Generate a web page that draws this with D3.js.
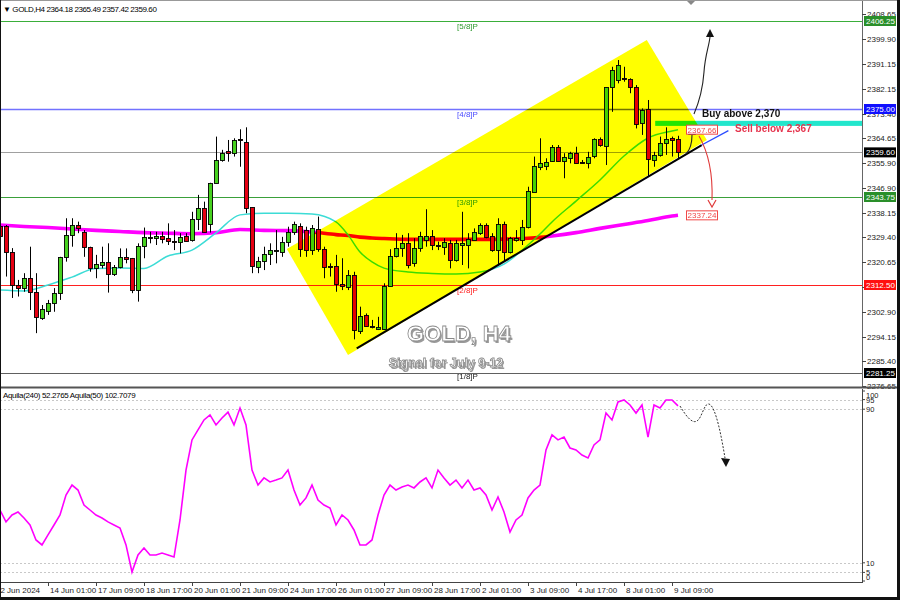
<!DOCTYPE html>
<html><head><meta charset="utf-8">
<script src="https://cdn.jsdelivr.net/npm/d3@7"></script>
<style>
html,body{margin:0;padding:0;background:#fff;}
svg{display:block;}
text{font-family:"Liberation Sans",Arial,sans-serif;}
</style>
</head><body>
<svg id="c" width="900" height="600"></svg>
<script>
// ---------------- DATA ----------------
const symbolTitle = "GOLD,H4";
const lastOHLC = [2364.18, 2365.49, 2357.42, 2359.60];
const open  = [2333.5,2333.5,2324.3,2312.5,2311.4,2315.0,2310.1,2300.8,2303.3,2306.1,2309.7,2322.4,2330.3,2333.8,2331.4,2326.1,2318.5,2319.6,2320.8,2316.4,2318.9,2322.4,2322.1,2310.7,2326.3,2329.6,2329.3,2329.9,2329.1,2328.2,2327.9,2329.9,2328.2,2335.8,2339.7,2334.4,2348.8,2356.9,2360.2,2359.4,2364.2,2363.4,2340.1,2319.0,2321.0,2323.4,2324.7,2324.3,2327.9,2331.4,2333.5,2332.0,2324.9,2332.3,2325.2,2319.2,2319.2,2312.7,2311.9,2316.1,2296.0,2301.8,2297.9,2297.1,2297.1,2312.2,2322.8,2325.5,2327.5,2320.2,2325.5,2328.5,2329.9,2326.7,2326.1,2327.5,2321.6,2326.7,2326.7,2328.7,2330.9,2333.8,2329.9,2324.9,2334.1,2324.3,2328.5,2328.7,2333.2,2345.6,2354.5,2354.8,2356.6,2361.4,2356.6,2357.5,2359.3,2356.3,2355.9,2358.1,2364.2,2361.9,2382.7,2385.3,2385.9,2385.6,2382.9,2369.9,2374.9,2357.1,2358.7,2362.8,2364.6,2364.18];
const high  = [2335.5,2333.8,2325.6,2314.3,2316.7,2326.1,2316.7,2305.4,2307.2,2311.4,2322.5,2336.2,2336.2,2335.0,2332.0,2326.1,2323.2,2326.1,2327.3,2319.6,2325.5,2325.5,2322.1,2327.3,2332.9,2331.4,2331.4,2331.4,2334.4,2332.0,2330.9,2330.9,2338.5,2344.5,2342.1,2348.8,2365.2,2360.5,2364.0,2364.6,2367.8,2368.5,2340.1,2322.5,2326.1,2327.3,2332.0,2329.6,2333.2,2335.0,2334.4,2333.2,2333.8,2336.8,2326.1,2320.2,2323.2,2322.0,2317.8,2317.2,2304.8,2302.4,2300.1,2301.2,2313.1,2325.2,2330.9,2330.3,2330.9,2329.1,2331.4,2339.4,2332.0,2327.9,2329.1,2328.5,2328.5,2338.5,2330.9,2332.6,2334.4,2334.4,2330.9,2336.2,2335.0,2329.6,2332.0,2335.6,2347.4,2358.1,2364.6,2357.5,2362.2,2362.2,2359.3,2359.8,2361.6,2356.9,2359.8,2364.6,2364.9,2382.7,2390.0,2392.4,2390.0,2385.9,2383.5,2375.2,2378.2,2359.8,2365.2,2368.5,2365.2,2365.49];
const low   = [2327.0,2315.5,2307.9,2308.4,2310.1,2303.6,2295.4,2300.1,2301.9,2303.0,2307.2,2320.8,2326.1,2330.9,2322.5,2317.2,2314.9,2318.4,2309.8,2315.7,2318.4,2320.2,2309.6,2306.6,2322.0,2327.3,2326.7,2327.3,2326.7,2324.9,2323.7,2327.9,2327.9,2332.0,2331.1,2331.1,2348.6,2356.3,2356.3,2358.1,2354.5,2338.0,2316.7,2316.7,2317.8,2319.6,2320.2,2322.5,2326.1,2330.3,2322.5,2322.5,2323.2,2324.3,2314.9,2315.5,2310.1,2310.7,2310.7,2293.2,2295.1,2297.7,2297.1,2296.5,2296.5,2311.9,2322.3,2322.5,2318.4,2319.0,2324.3,2326.1,2324.9,2324.9,2323.2,2318.4,2320.8,2319.6,2318.4,2328.5,2330.3,2329.1,2324.3,2319.6,2320.8,2323.7,2327.9,2326.7,2332.6,2345.6,2353.3,2353.3,2356.3,2356.3,2350.4,2355.7,2355.7,2355.7,2353.9,2357.5,2361.6,2355.1,2374.0,2384.1,2384.7,2380.6,2368.1,2365.8,2351.0,2354.5,2358.1,2358.7,2358.1,2357.42];
const close = [2330.0,2324.3,2312.5,2311.4,2315.1,2310.1,2301.2,2304.0,2306.1,2309.7,2322.4,2330.3,2333.8,2332.7,2326.1,2318.5,2320.0,2320.8,2316.4,2318.9,2322.4,2321.7,2310.7,2326.3,2329.6,2329.1,2329.9,2328.7,2327.9,2327.9,2329.6,2328.2,2335.8,2339.7,2331.1,2348.8,2356.9,2359.5,2359.4,2364.0,2363.7,2340.1,2319.0,2321.0,2323.4,2324.9,2324.9,2327.9,2331.4,2334.2,2325.5,2324.9,2332.6,2325.2,2318.8,2318.8,2312.9,2311.9,2316.1,2296.5,2301.5,2297.9,2297.5,2297.7,2312.2,2322.8,2325.5,2327.3,2319.6,2325.5,2329.9,2329.9,2326.7,2326.3,2327.9,2321.6,2327.5,2327.3,2328.7,2331.4,2333.8,2329.6,2324.9,2334.1,2324.3,2329.1,2329.1,2333.2,2346.0,2354.8,2355.9,2356.3,2361.6,2356.6,2357.9,2359.3,2355.9,2355.9,2358.1,2364.2,2361.9,2382.7,2388.8,2390.6,2385.6,2382.9,2369.9,2374.6,2357.1,2358.7,2362.8,2364.2,2364.0,2359.60];

const maBars = [0,4,8,12,16,20,24,28,32,36,40,44,48,52,56,58,60,62,64,68,72,76,80,84,88,90,92,96,100,104,108,112,113];
const maFast = [2310.7,2310.4,2312.5,2315.3,2318.4,2318.5,2318.4,2322.8,2324.9,2331.0,2337.4,2338.0,2338.0,2337.7,2334.9,2330.3,2324.2,2320.7,2318.5,2317.1,2316.6,2316.4,2317.1,2319.9,2326.7,2330.6,2334.9,2342.3,2349.8,2358.3,2364.7,2367.2,2367.66];
const maSlow = [2333.8,2333.3,2332.9,2332.4,2331.9,2331.5,2331.1,2330.9,2330.7,2331.1,2332.2,2331.9,2331.8,2331.3,2330.4,2330.1,2329.5,2329.2,2329.0,2328.7,2328.7,2328.7,2328.7,2328.8,2329.1,2329.4,2329.9,2331.1,2332.6,2334.0,2335.4,2337.0,2337.24];

const aquila = [37.5,31.3,34.9,36.5,33.3,29.7,21.9,19.3,24.5,29.7,34.9,45.3,50.5,47.9,40.1,37.5,34.9,33.3,31.3,29.7,28.1,19.3,5.2,14.1,17.7,14.1,14.1,15.1,14.1,13.0,32.3,58.3,74.0,79.2,84.4,87.0,81.8,85.4,88.5,81.8,90.6,81.8,58.3,50.5,54.2,52.1,53.1,54.2,58.3,47.9,40.1,43.8,50.5,42.7,40.1,38.5,29.7,34.9,32.3,27.1,19.3,19.3,21.9,34.9,45.3,50.5,47.9,49.5,50.5,49.0,52.1,54.2,49.0,58.3,54.2,50.5,53.1,49.0,53.1,47.9,49.0,45.3,37.5,44.3,36.5,26.0,32.3,34.9,43.8,47.9,50.5,68.8,76.6,74.0,75.5,69.8,68.8,66.1,64.6,71.4,74.0,88.0,84.4,93.8,94.8,92.2,88.0,92.2,75.5,92.2,90.6,94.8,94.8,91.7];
const aquilaLegend = "Aquila(240) 52.2765  Aquila(50) 102.7079";

const priceTicks = [2408.65,2399.90,2391.15,2382.15,2373.40,2364.65,2355.90,2346.90,2338.15,2329.40,2320.65,2311.90,2302.90,2294.15,2285.40,2276.65];
const levelNames  = ["[5/8]P","[4/8]P","[3/8]P","[2/8]P","[1/8]P"];
const levelPrices = [2406.25,2375.00,2343.75,2312.50,2281.25];
const indTicks = [100,95,90,10,5,0];
const indDotted = [95,90,10,5];
const xLabelBars = [0,8,16,24,32,40,48,56,64,72,80,88,96,104,112];
const xLabels = ["12 Jun 2024","14 Jun 01:00","17 Jun 09:00","18 Jun 17:00","20 Jun 01:00","21 Jun 09:00","24 Jun 17:00","26 Jun 01:00","27 Jun 09:00","28 Jun 17:00","2 Jul 01:00","3 Jul 09:00","4 Jul 17:00","8 Jul 01:00","9 Jul 09:00"];
// channel (bar, price) corners and support line
const channelBars   = [47.8,107.8,117.8,58.0];
const channelPrices = [2325.3,2399.5,2364.0,2287.6];
const supportBars   = [59.45,116.95,121.4];
const supportPrices = [2290.0,2362.2,2367.3];
const buyZone = [2369.0,2370.8];
const buyText = "Buy above 2,370";
const sellText = "Sell below 2,367";
const titleText = "GOLD, H4";
const subtitleText = "Signal for July 9-12";

// ---------------- CHART ----------------
const svg = d3.select("#c");
const PR = 862;              // plot right edge
const MB = 387;              // main bottom
const x  = d3.scaleLinear().domain([0,113]).range([0,678]);
const y  = d3.scaleLinear().domain([2375,2312.5]).range([109,285]);
const yi = d3.scaleLinear().domain([0,100]).range([582,390]);
const up = "#46d11f", dn = "#e60012";

svg.append("rect").attr("width",900).attr("height",600).attr("fill","#fff");
const defs = svg.append("defs");
defs.append("clipPath").attr("id","cm").append("rect").attr("x",0).attr("y",0).attr("width",PR).attr("height",MB);
defs.append("clipPath").attr("id","ci").append("rect").attr("x",0).attr("y",389).attr("width",PR).attr("height",193);

const main = svg.append("g").attr("clip-path","url(#cm)");

// levels
const lvColors = ["#3aae3a","#7272ff","#3aa03a","#ff2020","#606060"];
const lvText   = ["#2f9a2f","#4b4bff","#2f9a2f","#ff2020","#222"];
main.selectAll("line.lv").data(levelPrices).join("line")
  .attr("x1",0).attr("x2",PR)
  .attr("y1",d=>Math.round(y(d))+0.5).attr("y2",d=>Math.round(y(d))+0.5)
  .attr("stroke",(d,i)=>lvColors[i]).attr("stroke-width",(d,i)=>i===1?1.6:1);
main.append("line").attr("x1",0).attr("x2",PR)
  .attr("y1",Math.round(y(lastOHLC[3]))+0.5).attr("y2",Math.round(y(lastOHLC[3]))+0.5)
  .attr("stroke","#a0a0a0").attr("stroke-width",1);
main.selectAll("text.lv").data(levelNames).join("text")
  .attr("x",457).attr("y",(d,i)=>y(levelPrices[i])+(i===4?6:8))
  .attr("font-size",8).attr("fill",(d,i)=>lvText[i]).text(d=>d);

// buy zone band
main.append("rect").attr("x",x(109.2)).attr("width",PR-x(109.2))
  .attr("y",y(buyZone[1])).attr("height",y(buyZone[0])-y(buyZone[1]))
  .attr("fill","#22e6cc");

// moving averages
const lineMA = vals => d3.line().x((d,i)=>x(maBars[i])).y(d=>y(d)).curve(d3.curveMonotoneX)(vals);
main.append("path").attr("d",lineMA(maSlow)).attr("fill","none").attr("stroke","#ff00ff").attr("stroke-width",3.6);
main.append("path").attr("d",lineMA(maFast)).attr("fill","none").attr("stroke","#3cdcd6").attr("stroke-width",1.5);

// candles
const idx = d3.range(open.length);
const cx = i => Math.round(x(i));
main.selectAll("line.wick").data(idx).join("line")
  .attr("x1",i=>cx(i)+0.5).attr("x2",i=>cx(i)+0.5)
  .attr("y1",i=>y(high[i])).attr("y2",i=>y(low[i]))
  .attr("stroke","#000").attr("stroke-width",1);
main.selectAll("rect.body").data(idx).join("rect")
  .attr("x",i=>cx(i)-1.5).attr("width",4)
  .attr("y",i=>Math.round(y(Math.max(open[i],close[i])))+0.5)
  .attr("height",i=>Math.max(1,Math.round(Math.abs(y(open[i])-y(close[i])))))
  .attr("fill",i=>close[i]>=open[i]?up:dn)
  .attr("stroke","#000").attr("stroke-width",0.9);

// yellow channel (multiply)
main.append("polygon")
  .attr("points",channelBars.map((b,i)=>[x(b),y(channelPrices[i])].join(",")).join(" "))
  .attr("fill","#ffff00").style("mix-blend-mode","multiply");

// support line + extension
main.append("line").attr("x1",x(supportBars[0])).attr("y1",y(supportPrices[0]))
  .attr("x2",x(supportBars[1])).attr("y2",y(supportPrices[1])).attr("stroke","#000").attr("stroke-width",2);
main.append("line").attr("x1",x(supportBars[1])).attr("y1",y(supportPrices[1]))
  .attr("x2",x(supportBars[2])).attr("y2",y(supportPrices[2])).attr("stroke","#2b4cff").attr("stroke-width",1.3);

// arrows
main.append("path").attr("d","M694,114 C700,100 703,86 704,72 C705,56 709,46 710,37")
  .attr("fill","none").attr("stroke","#222").attr("stroke-width",1.1);
main.append("polygon").attr("points","706,37 714,37 710,29").attr("fill","#111");
main.append("path").attr("d","M686,154 Q692,148 692,135")
  .attr("fill","none").attr("stroke","#222").attr("stroke-width",1.1);
main.append("polygon").attr("points","688,135 696,135 692,127").attr("fill","#111");
main.append("path").attr("d","M699,136 C707,150 713,172 712,200")
  .attr("fill","none").attr("stroke","#e03a3a").attr("stroke-width",1.1);
main.append("path").attr("d","M708,200 L712,207 L716,200").attr("fill","none").attr("stroke","#e03a3a").attr("stroke-width",1.2);

// annotation texts
main.append("text").attr("x",702).attr("y",117).attr("font-size",10).attr("font-weight","bold").attr("fill","#111").text(buyText);
main.append("text").attr("x",735).attr("y",132).attr("font-size",10).attr("font-weight","bold").attr("fill","#e5364f").text(sellText);

// MA value boxes
[maFast[maFast.length-1], maSlow[maSlow.length-1]].forEach(v=>{
  const g = main.append("g");
  g.append("rect").attr("x",686.5).attr("y",y(v)-4.5).attr("width",31).attr("height",9)
    .attr("fill","#fff").attr("stroke","#f04848").attr("stroke-width",1);
  g.append("text").attr("x",702).attr("y",y(v)+3).attr("text-anchor","middle")
    .attr("font-size",8).attr("fill","#f04848").text(v.toFixed(2));
});

// big titles
function shadowText(t,xx,yy,fs){
  main.append("text").attr("x",xx+1.5).attr("y",yy+1.5).attr("text-anchor","middle")
    .attr("font-size",fs).attr("font-weight","bold").attr("fill","#9a9a9a").text(t);
  main.append("text").attr("x",xx).attr("y",yy).attr("text-anchor","middle")
    .attr("font-size",fs).attr("font-weight","bold").attr("fill","#fff")
    .attr("stroke","#8a8a8a").attr("stroke-width",0.8).text(t);
}
shadowText(titleText,459,341,22);
shadowText(subtitleText,446,367,12.5);

// header
svg.append("text").attr("x",3).attr("y",12).attr("font-size",8).attr("letter-spacing",-0.4).attr("fill","#000")
  .text("\u25BC " + symbolTitle + "  " + lastOHLC.map(v=>v.toFixed(2)).join(" "));
// top marker
svg.append("polygon").attr("points","687,1 695,1 691,5").attr("fill","#888");

// ---- right price axis ----
const ax = svg.append("g");
ax.append("line").attr("x1",PR+0.5).attr("x2",PR+0.5).attr("y1",0).attr("y2",MB).attr("stroke","#666");
ax.selectAll("line.t").data(priceTicks).join("line")
  .attr("x1",PR).attr("x2",PR+4).attr("y1",d=>Math.round(y(d))+0.5).attr("y2",d=>Math.round(y(d))+0.5).attr("stroke","#444");
ax.selectAll("text.t").data(priceTicks).join("text")
  .attr("x",867).attr("y",d=>y(d)+3).attr("font-size",8).attr("fill","#222").text(d=>d.toFixed(2));
const boxCol = ["#2a8f2a","#1010ff","#000","#2a8f2a","#ff1010","#000"];
const boxVals = [levelPrices[0],levelPrices[1],lastOHLC[3],levelPrices[2],levelPrices[3],levelPrices[4]];
boxVals.forEach((v,i)=>{
  ax.append("rect").attr("x",864).attr("y",y(v)-5).attr("width",32).attr("height",10).attr("fill",boxCol[i]);
  ax.append("text").attr("x",866).attr("y",y(v)+3).attr("font-size",8).attr("fill","#fff").text(v.toFixed(2));
});

// panel separator / top line
svg.append("line").attr("x1",0).attr("x2",900).attr("y1",387.5).attr("y2",387.5).attr("stroke","#555").attr("stroke-width",2);
svg.append("line").attr("x1",0).attr("x2",900).attr("y1",0.5).attr("y2",0.5).attr("stroke","#999");

// ---- indicator ----
const ind = svg.append("g").attr("clip-path","url(#ci)");
ind.selectAll("line.dl").data(indDotted).join("line")
  .attr("x1",0).attr("x2",PR).attr("y1",d=>Math.round(yi(d))+0.5).attr("y2",d=>Math.round(yi(d))+0.5)
  .attr("stroke","#c8c8c8").attr("stroke-dasharray","2,2");
ind.append("path").attr("d",d3.line().x((d,i)=>x(i)).y(d=>yi(d))(aquila))
  .attr("fill","none").attr("stroke","#ff00ff").attr("stroke-width",1.6);
ind.append("path").attr("d","M680,406 C686,416 692,424 697,421 C702,418 704,403 709,404 C716,406 722,440 725,458")
  .attr("fill","none").attr("stroke","#333").attr("stroke-width",1).attr("stroke-dasharray","2,1.5");
ind.append("polygon").attr("points","721,458 730,459 726,467").attr("fill","#111");
svg.append("rect").attr("x",2).attr("y",390).attr("width",134).attr("height",10).attr("fill","#fff");
svg.append("text").attr("x",3).attr("y",398).attr("font-size",8).attr("letter-spacing",-0.35).attr("fill","#000").text(aquilaLegend);

svg.append("line").attr("x1",PR+0.5).attr("x2",PR+0.5).attr("y1",389).attr("y2",582).attr("stroke","#444");
svg.append("line").attr("x1",0).attr("x2",PR+1).attr("y1",582.5).attr("y2",582.5).attr("stroke","#444");
svg.selectAll("text.it").data(indTicks).join("text")
  .attr("x",866).attr("y",d=>Math.min(Math.max(yi(d),395),577)+3)
  .attr("font-size",7.5).attr("fill","#222").text(d=>d);
svg.selectAll("line.it").data(indTicks).join("line")
  .attr("x1",PR).attr("x2",PR+3).attr("y1",d=>Math.min(Math.max(yi(d),391),581)).attr("y2",d=>Math.min(Math.max(yi(d),391),581)).attr("stroke","#444");

// ---- x axis ----
svg.selectAll("line.xt").data(xLabelBars).join("line")
  .attr("x1",d=>cx(d)+0.5).attr("x2",d=>cx(d)+0.5).attr("y1",582).attr("y2",586).attr("stroke","#444");
svg.selectAll("text.xt").data(xLabels).join("text")
  .attr("x",(d,i)=>i===0?cx(xLabelBars[i])-4:cx(xLabelBars[i])+2).attr("y",593)
  .attr("font-size",8).attr("fill","#222").text(d=>d);

// outer frame
svg.append("line").attr("x1",898.5).attr("x2",898.5).attr("y1",0).attr("y2",600).attr("stroke","#111").attr("stroke-width",3);
svg.append("line").attr("x1",0).attr("x2",900).attr("y1",598.5).attr("y2",598.5).attr("stroke","#111").attr("stroke-width",3);
svg.append("line").attr("x1",0.5).attr("x2",0.5).attr("y1",0).attr("y2",600).attr("stroke","#111").attr("stroke-width",1);
</script>
</body></html>
